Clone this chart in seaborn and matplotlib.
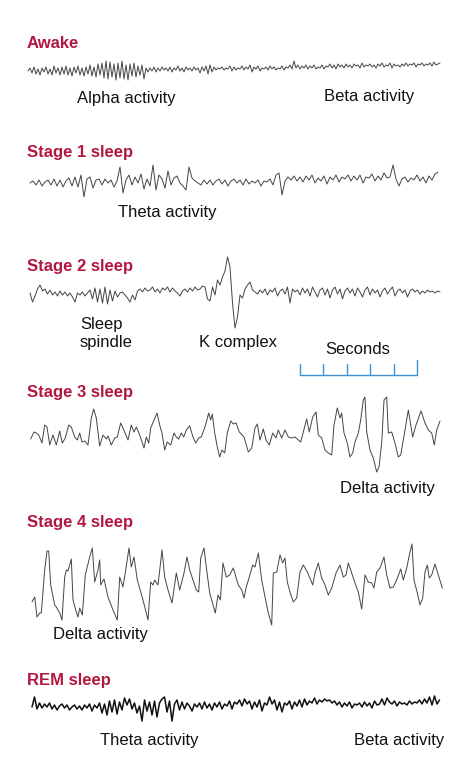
import numpy as np
import pandas as pd
import matplotlib
matplotlib.use("Agg")
import matplotlib.pyplot as plt
import seaborn as sns

sns.set_theme(style="white")
plt.rcParams['font.family'] = ['Liberation Sans', 'DejaVu Sans']

# ---------------- data (amplitudes, arbitrary units) -------------
stage_titles = ["Awake", "Stage 1 sleep", "Stage 2 sleep", "Stage 3 sleep", "Stage 4 sleep", "REM sleep"]

# uniformly sampled traces (time step given in time units)
awake_dt = 2.0
awake_v = [0, 3, -2, 4, -3, 2, -4, 3, -1, 4,
           -3, 2, -4, 5, -2, 3, -4, 4, -3, 5,
           -4, 3, -5, 4, -2, 5, -4, 3, -5, 4,
           -3, 6, -5, 4, -6, 7, -4, 8, -7, 10,
           -8, 9, -6, 7, -9, 8, -7, 10, -8, 6,
           -9, 7, -5, 8, -6, 5, -4, 6, -8, 3,
           -1, 3, 0, 4, -1, 3, 0, 4, 1, 3,
           0, 4, -1, 3, 1, 5, 0, 3, -1, 4,
           1, 3, 0, 4, 1, 3, -2, 4, 0, 5,
           -3, 6, -1, 4, 1, 3, 2, 4, 1, 3,
           2, 5, 0, 4, 1, 3, 2, 5, 1, 4,
           2, 6, -1, 4, 2, 5, 0, 3, 2, 4,
           1, 5, 2, 4, 1, 3, 2, 5, 1, 4,
           3, 6, 2, 10, 3, 6, 2, 5, 3, 6,
           2, 5, 3, 6, 2, 4, 3, 6, 2, 5,
           4, 7, 3, 6, 2, 7, 4, 6, 3, 7,
           4, 6, 3, 7, 5, 6, 3, 8, 4, 6,
           5, 7, 4, 6, 3, 7, 5, 8, 4, 6,
           5, 8, 3, 7, 5, 6, 4, 7, 5, 8,
           5, 7, 6, 8, 4, 7, 6, 8, 5, 7,
           6, 8, 5, 9, 6, 7, 8]

stage1_dt = 3.0
stage1_v = [0, 2, -2, 3, -3, 1, 3, -2, 4, -3,
            3, -4, 2, 5, -3, 6, -4, 8, -14, 4,
            6, -5, 3, 4, -2, 4, 0, 3, -4, 2,
            16, -10, 3, 8, -2, 6, 0, 9, -6, 4,
            -3, 18, -7, 8, 4, -5, 12, -2, 5, 7,
            0, -3, -7, 16, 5, 2, 0, -2, 3, -1,
            3, -2, 2, 4, -1, 3, -3, 2, 4, 0,
            3, -2, 4, -1, 2, 0, 3, -3, 2, 1,
            4, -2, 8, 10, -12, 2, 6, 3, 7, 2,
            6, 1, 7, 3, 8, 0, 5, 2, 7, -1,
            6, 3, 8, 1, 6, 4, 8, 2, 7, 3,
            8, 0, 6, 5, 9, 2, 7, 3, 10, 5,
            6, 18, 4, -3, 4, 6, 1, 5, 3, 8,
            2, 6, 0, 7, 3, 9, 11]

stage2_dt = 2.5
stage2_v = [0, -9, -3, 4, 8, 2, 4, -1, 3, -2,
            1, -3, 2, -2, 1, -3, 0, -4, -9, 0,
            -2, 1, -3, 0, 3, -6, 5, -9, 4, -10,
            6, -11, 3, -8, 2, -4, 0, 1, -2, -5,
            -9, -2, -7, 2, 4, 1, 5, 2, 3, 6,
            1, 4, 0, 5, 3, 6, 1, 5, 2, 0,
            -3, 2, 4, 1, 5, 2, 6, 3, 4, 7,
            6, -6, -8, 6, -2, 13, 8, 16, 22, 36,
            26, -10, -35, -24, -2, -5, 4, 8, 11, 3,
            1, -1, 3, 0, 4, -2, 3, 1, 5, -3,
            2, 4, -1, 6, -10, 4, 1, 3, -2, 5,
            0, 4, -3, 6, 1, -4, 3, 5, -2, 4,
            -5, 3, 6, -1, 4, -6, 2, 5, 0, 4,
            -3, 5, 1, -4, 3, 6, -2, 4, 0, 3,
            -4, 2, 5, -1, 3, 6, -3, 2, 4, 0,
            3, -4, 2, 4, 1, 3, -1, 2, 0, 3,
            1, 2, 0, 2, 1]

rem_dt = 2.5
rem_v = [0, 10, -2, 4, -1, 3, 0, 4, -2, 2,
         -3, 1, 3, -1, 2, -3, 0, 2, -2, 1,
         -3, 2, -1, 3, -4, 2, -1, 4, -6, 3,
         -8, 6, -5, 7, -7, 5, -3, 9, 2, 8,
         -2, 4, -6, 1, -14, 7, -4, 5, -8, 6,
         -10, 4, 8, 10, -5, 6, -14, 3, 7, -3,
         5, -2, 4, 1, -4, 3, 0, 4, -2, 5,
         -1, 3, -3, 4, 0, 5, -2, 3, 1, 6,
         -2, 5, 3, 7, 1, 8, 3, 6, -2, 5,
         0, 7, -4, 4, 2, 10, 3, 7, -3, 5,
         -5, 4, 2, 6, -2, 5, 1, 7, 0, 8,
         2, 6, 4, 9, 3, 7, 5, 8, 6, 7,
         4, 6, 2, 5, 0, 4, 1, 5, -1, 3,
         2, 4, 0, 5, 1, 4, -1, 6, 2, 3,
         8, 2, 9, 5, 3, 6, 1, 5, 3, 4,
         2, 6, 3, 5, 4, 7, 3, 8, 4, 10,
         2, 11, 3, 7]

# turning-point traces (time, amplitude)
stage3_t = [0.7, 4, 6.3, 8.7, 12, 14.7, 17, 19.7, 23, 26.3, 29.7, 32.3, 35.3, 38.7, 41.3, 44.7,
            47.3, 49.7, 52, 54.7, 58, 61.3, 63.7, 66.3, 69.7, 73, 76.3, 78, 81.3, 84.7, 87.3,
            90.7, 94.7, 98, 101.3, 104, 106.3, 109.7, 114, 116.3, 118.7, 120.7, 124, 127,
            129.7, 132, 134.7, 137.3, 140.7, 144, 146.3, 148.7, 151.3, 153.7, 156.3, 159.7,
            163, 165.7, 168.7, 171.3, 175.3, 178.7, 180.7, 182.3, 184.7, 187.3, 189.7, 192,
            194.7, 197.3, 200.7, 203.3, 206, 209.3, 214, 218.3, 221.7, 225, 227.3, 230, 233.3,
            236, 239.3, 242.7, 246, 248.3, 251.7, 255, 258.3, 261.7, 265, 268.3, 270.7, 273.3,
            276.7, 279.3, 282.7, 286, 288.3, 291.7, 295, 298.3, 301.7, 304, 307.3, 310, 311.7,
            314, 317.3, 320, 322.7, 325, 328.3, 330.7, 333.3, 335, 336.7, 340, 343.3, 346.7,
            349, 351.7, 354, 356.7, 358.3, 361.7, 365, 368.3, 370.7, 375, 378.3, 382.7, 386,
            391, 395, 398.3, 401.7, 404.3, 406.7, 410]
stage3_v = [-4, 3, 2, 0, -8, 10, 8, -10, 0, -10, 4, -8, -3, 10, 8, -2,
            -5, 2, -7, -6, -10, 17, 26, 17, -11, 0, -4, -1, -10, -3, -2,
            12, 3, -5, 10, 3, 8, 0, -13, -2, -8, 7, 15, 22,
            10, 2, -15, -7, -10, 2, -2, -4, 2, -2, 5, 9,
            -2, -8, -3, -2, 9, 22, 15, 21, 2, -12, -22, -15,
            -18, 2, 14, 11, 12, 3, -2, -17, -13, 7, 11, -5, 6,
            -5, -10, 2, -3, 5, -3, 5, -2, -3, -2, -5, -7, 3,
            16, 3, 18, 23, 0, -3, -15, -18, -20, 10, 27, 17, 22,
            2, -8, -22, -18, -7, 2, 15, 35, 38, 3, -15, -23, -37,
            -32, -8, 35, 38, 2, 3, -8, -22, -20, 5, 25, -2, 10,
            24, 12, 5, 2, -10, 5, 14]

stage4_t = [2, 4.7, 7, 9.7, 11.3, 14.7, 17, 18.7, 20.7, 24.7, 26.3, 29.7, 32, 34.7, 36.3, 38,
            41.3, 43, 45.7, 48, 49.7, 52.3, 55.3, 59.7, 62.3, 64.7, 68, 69.7, 70.7, 74, 78, 83,
            87.3, 89.7, 93, 95.7, 99, 101.3, 104, 107.3, 113, 118, 120.7, 123, 124.7, 128, 132,
            134.7, 138, 142, 146.3, 149.7, 154, 157, 159.7, 163, 166.3, 168.7, 170.7, 174,
            176.3, 179.7, 183, 185.3, 188, 190.3, 193, 196.3, 199.7, 203.3, 208.3, 211.7, 214,
            216, 219.3, 222.7, 225, 228.3, 231.7, 235, 238.3, 241.7, 243.3, 246.7, 250, 252.7,
            255, 257.3, 260, 263.3, 266.7, 270, 273.3, 277.3, 280.7, 282.7, 285, 288.3, 291.7,
            295, 298.3, 301.7, 306, 310, 313.3, 316, 318.3, 320.7, 325, 328.3, 331.7, 335,
            338.3, 341.7, 344, 346.7, 350, 354, 356.7, 360, 363.3, 366.7, 370.7, 373.3, 376.7,
            380, 382, 384, 387.3, 390, 392.7, 395, 397.3, 399.3, 401.7, 405, 408.3, 412.3]
stage4_v = [-17, -12, -32, -28, -28, 15, 34, 34, 0, -20, -22, -28, -35, 8, 15, 14,
            26, -15, -25, -32, -23, -30, 10, 28, 37, 3, 15, 25, 0, 6, -12, -25,
            -35, 8, -2, 15, 37, 18, 28, 5, -15, -35, 3, 0, 5, 0, 35,
            8, -5, -18, 12, -5, 12, 28, 15, 5, -5, -7, 27, 37,
            18, -8, -20, -28, -10, -15, 22, 8, 10, 17, 0, -5, -13,
            -3, 8, 20, 18, 32, 5, -12, -28, -40, 12, 13, 30, 22,
            27, 3, -7, -17, -13, 13, 20, 13, 5, 0, 12, 22, 7,
            0, -10, -3, 12, 20, 8, 10, 22, 15, 2, -7, -24, 10,
            3, 2, -3, 13, 17, 28, 10, -3, -2, 5, 16, 5, 17,
            33, 41, 5, -8, -20, -13, 13, 20, 7, 10, 21, 10, -3]

seconds = [0, 1, 2, 3, 4, 5]

# ---------------- layout (pixel canvas) ----------------
W, H = 465, 774
X0 = 30
fig = plt.figure(figsize=(W / 100, H / 100), dpi=100)
ax = fig.add_axes([0, 0, 1, 1])

TRACE = "#444444"
RED = "#b2183f"


def uniform(values, dt, start):
    t = start + dt * np.arange(len(values))
    return t, np.asarray(values, float)


traces = [
    (*uniform(awake_v, awake_dt, -2), 71, 0.7, TRACE),
    (*uniform(stage1_v, stage1_dt, 0), 183, 0.7, TRACE),
    (*uniform(stage2_v, stage2_dt, 0), 293, 0.7, TRACE),
    (np.asarray(stage3_t, float), np.asarray(stage3_v, float), 435, 0.7, TRACE),
    (np.asarray(stage4_t, float), np.asarray(stage4_v, float), 585, 0.7, TRACE),
    (*uniform(rem_v, rem_dt, 2), 707, 1.1, "#111111"),
]

for t, v, base, lw, col in traces:
    df = pd.DataFrame({"x": X0 + t, "y": base - v})
    sns.lineplot(data=df, x="x", y="y", ax=ax, color=col, lw=lw,
                 estimator=None, sort=False, legend=False)
ax.set_xlim(0, W)
ax.set_ylim(H, 0)
ax.axis("off")

title_y = [44, 153, 266, 392, 523, 680]
for name, ty in zip(stage_titles, title_y):
    ax.text(27, ty, name, color=RED, fontsize=12, fontweight="bold", va="center", ha="left")

labels = [
    ("Alpha activity", 77, 98),
    ("Beta activity", 324, 97),
    ("Theta activity", 118, 212),
    ("Sleep", 80, 324),
    ("spindle", 80, 343),
    ("K complex", 199, 343),
    ("Seconds", 325, 350),
    ("Delta activity", 340, 488),
    ("Delta activity", 53, 635),
    ("Theta activity", 100, 740),
    ("Beta activity", 354, 740),
]
for txt, lx, ly in labels:
    ax.text(lx, ly, txt, color="#111111", fontsize=12, va="center", ha="left")

# seconds scale bar
BLUE = "#3c93d6"
SEC_PX = 23.4
bar_x = [300 + s * SEC_PX for s in seconds]
ax.plot([bar_x[0], bar_x[-1]], [375, 375], color=BLUE, lw=1.0)
for i, bx in enumerate(bar_x):
    top = 360 if i == len(bar_x) - 1 else 364
    ax.plot([bx, bx], [375, top], color=BLUE, lw=1.0)

fig.savefig("out.png", dpi=100, facecolor="white")
